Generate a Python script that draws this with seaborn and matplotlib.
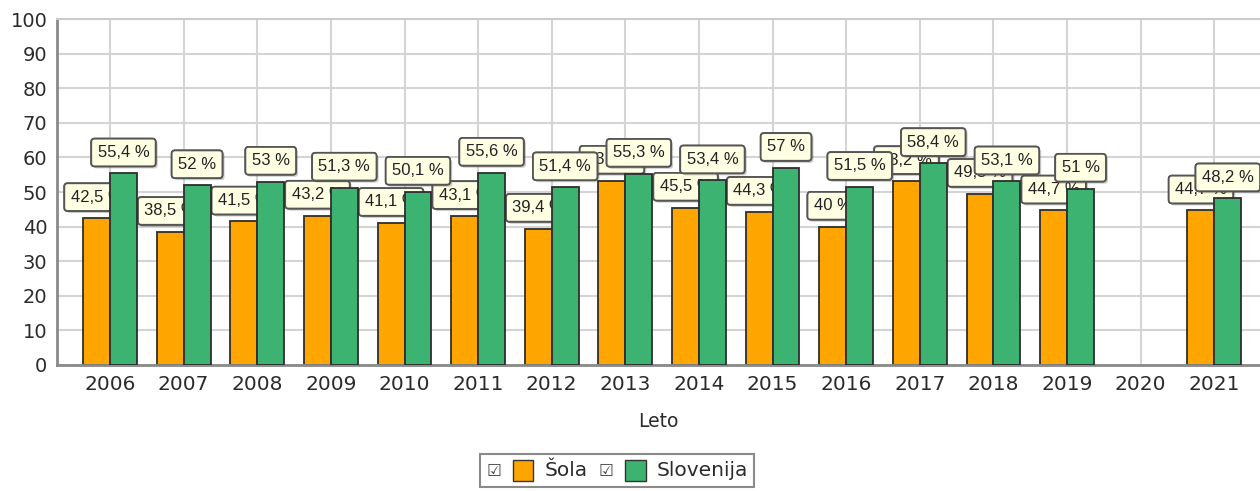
import matplotlib
matplotlib.use("Agg")
import numpy as np
import pandas as pd
import matplotlib.pyplot as plt
import matplotlib.patheffects as pe
import seaborn as sns
from matplotlib.ticker import MultipleLocator
from matplotlib.offsetbox import AnchoredOffsetbox, HPacker, TextArea, DrawingArea
from matplotlib.patches import Rectangle

years = ["2006", "2007", "2008", "2009", "2010", "2011", "2012", "2013",
         "2014", "2015", "2016", "2017", "2018", "2019", "2020", "2021"]
sola = [42.5, 38.5, 41.5, 43.2, 41.1, 43.1, 39.4, 53.3,
        45.5, 44.3, 40.0, 53.2, 49.5, 44.7, np.nan, 44.7]
slovenija = [55.4, 52.0, 53.0, 51.3, 50.1, 55.6, 51.4, 55.3,
             53.4, 57.0, 51.5, 58.4, 53.1, 51.0, np.nan, 48.2]
series = ["Šola", "Slovenija"]
colors = ["#FFA500", "#3CB371"]

df = pd.DataFrame({
    "Leto": years * 2,
    "Vrednost": sola + slovenija,
    "Serija": [series[0]] * len(years) + [series[1]] * len(years),
})

sns.set_style("white")
plt.rcParams["font.family"] = ["DejaVu Sans"]

fig = plt.figure(figsize=(12.6, 4.91), dpi=100)
ax = fig.add_axes([57 / 1260, 1 - 365 / 491, 1 - 57 / 1260, (365 - 19) / 491])

sns.barplot(data=df, x="Leto", y="Vrednost", hue="Serija", order=years,
            hue_order=series, palette=colors, saturation=1, width=0.73,
            edgecolor="#2e2e2e", linewidth=1.3, legend=False, ax=ax)

# labels: sola bars < sola labels < slovenija bars < slovenija labels
for i, cont in enumerate(ax.containers):
    for bar in cont:
        bar.set_zorder(2 + 2 * i)
        h = bar.get_height()
        if np.isnan(h):
            continue
        txt = f"{h:.1f}".replace(".0", "").replace(".", ",") + " %"
        t = ax.annotate(txt, (bar.get_x() + bar.get_width() / 2, h),
                        xytext=(0, 15), textcoords="offset points",
                        ha="center", va="center", fontsize=12,
                        family="Liberation Sans", color="#222222",
                        zorder=3 + 2 * i,
                        bbox=dict(boxstyle="round,pad=0.38,rounding_size=0.2",
                                  fc="#FFFFE3", ec="#555555", lw=1.3))
        t.get_bbox_patch().set_path_effects(
            [pe.withSimplePatchShadow(offset=(1.5, -1.5), alpha=0.3), pe.Normal()])

ax.set_ylim(0, 100)
ax.set_xlim(-0.72, 15.62)
ax.yaxis.set_major_locator(MultipleLocator(10))
ax.yaxis.set_minor_locator(MultipleLocator(2))
ax.xaxis.set_minor_locator(MultipleLocator(0.25))

ax.grid(True, which="major", color="#d4d4d4", lw=1.5)
ax.set_axisbelow(True)

ax.tick_params(axis="both", which="major", length=4, width=1, color="#888888",
               labelcolor="#2b2b2b", pad=3)
ax.tick_params(axis="x", which="major", labelsize=14.5)
ax.tick_params(axis="y", which="major", labelsize=14)
ax.tick_params(axis="both", which="minor", length=2.5, width=1, color="#aaaaaa")

for s in ["left", "bottom"]:
    ax.spines[s].set_color("#8a8a8a")
    ax.spines[s].set_linewidth(2)
ax.spines["top"].set_color("#cccccc")
ax.spines["top"].set_linewidth(1.5)
ax.spines["right"].set_visible(False)

ax.set_ylabel("")
ax.set_xlabel("Leto", fontsize=13.5, color="#2b2b2b", labelpad=13)

# legend with checkbox marks
items = []
for lab, col in zip(series, colors):
    chk = TextArea("☑", textprops=dict(fontsize=12, color="#444444"))
    da = DrawingArea(15, 15, 0, 0)
    da.add_artist(Rectangle((0, 0), 15, 15, fc=col, ec="#333333", lw=1))
    lt = TextArea(lab, textprops=dict(fontsize=14.5, color="#2b2b2b"))
    items += [chk, da, lt]
box = HPacker(children=items, align="center", pad=0, sep=8)
leg = AnchoredOffsetbox(loc="upper center", child=box, pad=0.45, frameon=True,
                        bbox_to_anchor=(0.49, 1 - 454 / 491),
                        bbox_transform=fig.transFigure, borderpad=0)
leg.patch.set_boxstyle("square", pad=0)
leg.patch.set_edgecolor("#8a8a8a")
leg.patch.set_linewidth(1.5)
fig.add_artist(leg)

fig.savefig("out.png", dpi=100)
